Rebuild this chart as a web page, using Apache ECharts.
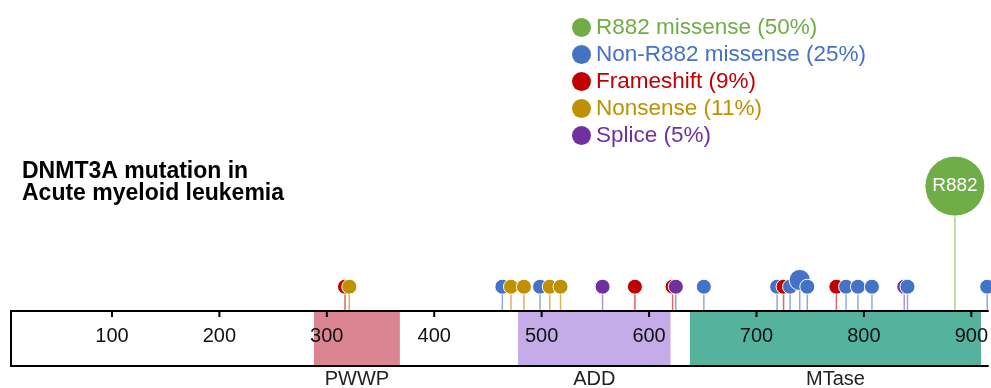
<!DOCTYPE html>
<html><head><meta charset="utf-8">
<script src="https://cdn.jsdelivr.net/npm/echarts@6/dist/echarts.min.js"></script>
<style>html,body{margin:0;padding:0;background:#fff}#c{width:991px;height:388px}</style>
</head><body><div id="c"></div>
<script>
// ---- data ----
const tickValues = [100, 200, 300, 400, 500, 600, 700, 800, 900];
const domainNames = ['PWWP', 'ADD', 'MTase'];
const domainStart = [288, 478, 638];
const domainEnd = [368, 620, 909];

const typeNames = ['R882 missense (50%)', 'Non-R882 missense (25%)', 'Frameshift (9%)', 'Nonsense (11%)', 'Splice (5%)'];

const r882Pos = [882];
const r882Count = [16];
const r882Label = ['R882'];
const missensePos = [462, 497, 649, 717, 729, 738, 745, 781, 792, 805, 838, 912];
const missenseCount = [1, 1, 1, 1, 1, 2, 1, 1, 1, 1, 1, 1];
const frameshiftPos = [316, 585, 620, 723, 772];
const frameshiftCount = [1, 1, 1, 1, 1];
const nonsensePos = [320, 470, 482, 506, 516];
const nonsenseCount = [1, 1, 1, 1, 1];
const splicePos = [555, 623, 835];
const spliceCount = [1, 1, 1];

// ---- styles ----
const FONT = "'Liberation Sans', Arial, sans-serif";
const headColors = ['#70ad47', '#4472c4', '#c00000', '#bf9000', '#7030a0'];
const stemColors = ['#a9d18e', '#8eaadb', '#e06666', '#d6b656', '#b094cf'];
const domainColors = ['#da8591', '#c3acE8', '#55b29c'];

// build mutation list (sorted left to right for drawing order)
const groups = [
  [r882Pos, r882Count, r882Label],
  [missensePos, missenseCount, null],
  [frameshiftPos, frameshiftCount, null],
  [nonsensePos, nonsenseCount, null],
  [splicePos, spliceCount, null]
];
const muts = [];
groups.forEach((g, t) => {
  g[0].forEach((p, i) => {
    const c = g[1][i];
    muts.push({ value: [p, 1 + (c - 1) * 0.276, c, t], label: g[2] ? g[2][i] : '' });
  });
});
muts.sort((a, b) => a.value[0] - b.value[0]);

const domainData = domainNames.map((n, i) => ({ name: n, value: [domainStart[i], domainEnd[i]] }));

const chart = echarts.init(document.getElementById('c'), null, { renderer: 'canvas' });

const series = [
  {
    type: 'custom', xAxisIndex: 0, yAxisIndex: 0, silent: true, z: 1,
    data: domainData,
    renderItem: function (params, api) {
      const s = api.value(0), e = api.value(1);
      const tl = api.coord([s, 1]);
      const br = api.coord([e, 0]);
      const name = domainNames[params.dataIndex];
      return {
        type: 'group',
        children: [
          { type: 'rect', shape: { x: tl[0], y: tl[1] + 1, width: br[0] - tl[0], height: br[1] - tl[1] - 2 },
            style: { fill: domainColors[params.dataIndex] } },
          { type: 'text', style: { text: name, x: (tl[0] + br[0]) / 2, y: br[1] + 3, align: 'center', verticalAlign: 'top',
            fontSize: 20, fontFamily: FONT, fill: '#222' } }
        ]
      };
    }
  },
  {
    type: 'custom', xAxisIndex: 0, yAxisIndex: 0, silent: true, z: 4,
    data: tickValues.map(v => [v]),
    renderItem: function (params, api) {
      const p = api.coord([api.value(0), 1]);
      return { type: 'line', shape: { x1: p[0], y1: p[1], x2: p[0], y2: p[1] + 6 },
        style: { stroke: '#000', lineWidth: 2 } };
    }
  },
  {
    type: 'custom', xAxisIndex: 1, yAxisIndex: 1, silent: true, z: 3,
    data: muts,
    renderItem: function (params, api) {
      const pos = api.value(0), h = api.value(1), c = api.value(2), t = api.value(3);
      const base = api.coord([pos, 0]);
      const top = api.coord([pos, h]);
      const r = 7.5 * Math.sqrt(c);
      const lbl = muts[params.dataIndex].label;
      const children = [
        { type: 'line', shape: { x1: base[0], y1: base[1], x2: top[0], y2: top[1] },
          style: { stroke: stemColors[t], lineWidth: 1.5 } },
        { type: 'circle', shape: { cx: top[0], cy: top[1], r: r },
          style: { fill: headColors[t], stroke: '#fff', lineWidth: 1 } }
      ];
      if (lbl) {
        children.push({ type: 'text', style: { text: lbl, x: top[0], y: top[1], align: 'center', verticalAlign: 'middle',
          fontSize: 19, fontFamily: FONT, fill: '#fff' } });
      }
      return { type: 'group', children: children };
    }
  }
];
typeNames.forEach((n, i) => {
  series.push({ type: 'scatter', name: n, xAxisIndex: 1, yAxisIndex: 1, data: [], itemStyle: { color: headColors[i], opacity: 1 } });
});

const boxLine = { show: true, onZero: false, lineStyle: { color: '#000', width: 2 } };

chart.setOption({
  animation: false,
  backgroundColor: '#fff',
  title: {
    text: 'DNMT3A mutation in\nAcute myeloid leukemia',
    left: 22, top: 161, padding: 0,
    textStyle: { fontSize: 23, fontWeight: 'bold', fontFamily: FONT, color: '#000', lineHeight: 22 }
  },
  legend: {
    orient: 'vertical', left: 572, top: 16, padding: 0, itemGap: 4,
    itemWidth: 19, itemHeight: 19, icon: 'circle',
    itemStyle: { opacity: 1 },
    data: typeNames.map((n, i) => ({ name: n, textStyle: { color: headColors[i] } })),
    textStyle: { fontSize: 22.5, fontFamily: FONT },
    selectedMode: false
  },
  grid: [
    { left: 11, top: 311, right: 0, height: 55, show: false },
    { left: 11, top: 0, right: 0, height: 311, show: false }
  ],
  xAxis: [
    { gridIndex: 0, type: 'value', min: 6, max: 915.5, position: 'top', z: 10,
      axisLine: boxLine,
      axisTick: { show: false },
      axisLabel: { show: true, inside: true, margin: 15, fontSize: 20, fontFamily: FONT, color: '#111', customValues: tickValues },
      splitLine: { show: false } },
    { gridIndex: 1, type: 'value', min: 6, max: 915.5, show: false },
    { gridIndex: 0, type: 'value', min: 6, max: 915.5, position: 'bottom', z: 10,
      axisLine: boxLine, axisTick: { show: false }, axisLabel: { show: false }, splitLine: { show: false } }
  ],
  yAxis: [
    { gridIndex: 0, type: 'value', min: 0, max: 1, position: 'left', z: 10,
      axisLine: boxLine, axisTick: { show: false }, axisLabel: { show: false }, splitLine: { show: false } },
    { gridIndex: 1, type: 'value', min: 0, max: 12.8, show: false }
  ],
  series: series
});
</script>
</body></html>
